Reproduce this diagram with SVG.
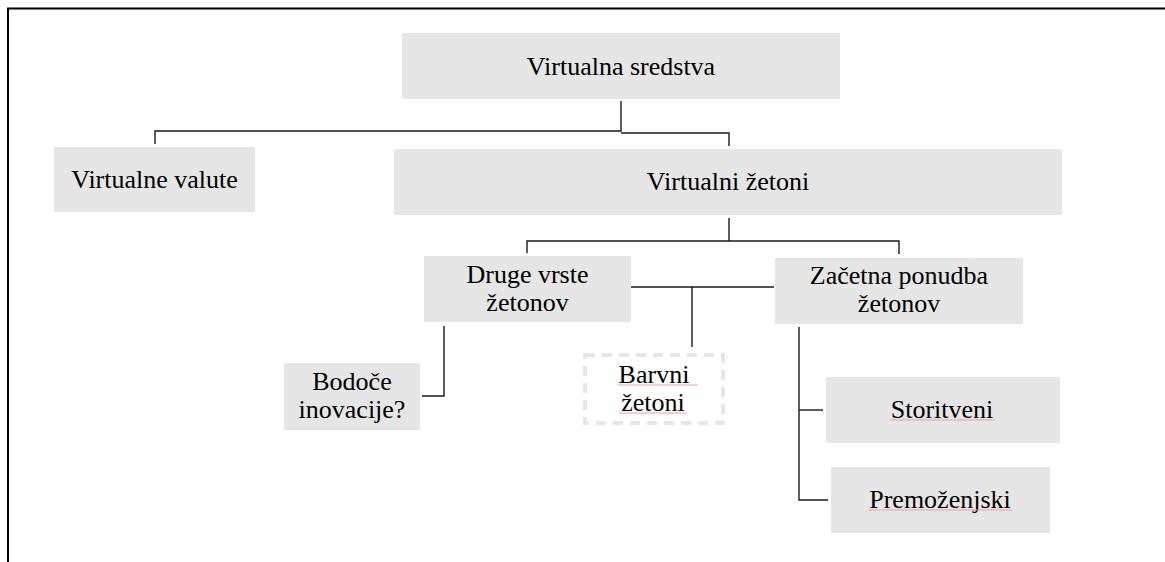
<svg xmlns="http://www.w3.org/2000/svg" width="1165" height="562" viewBox="0 0 1165 562">
  <style>
    .box { fill: #e6e6e6; }
    .dash { fill: none; stroke: #e6e6e6; stroke-width: 4; stroke-dasharray: 10 7; }
    .lbl { font-family: "Liberation Serif", "Times New Roman", serif; font-size: 26px; fill: #000; text-anchor: middle; }
    .conn { fill: none; stroke: #1a1a1a; stroke-width: 1.4; }
    .frame { fill: none; stroke: #000; stroke-width: 2; }
    .spell { stroke: #f0a0a0; stroke-width: 1; fill: none; }
  </style>
  <rect width="1165" height="562" fill="#ffffff"/>
  <path class="frame" d="M8,562 V8.5 H1165"/>

  <g id="connectors">
    <path class="conn" d="M155,144 V131 H621 V101"/>
    <path class="conn" d="M621,133 H729 V146"/>
    <path class="conn" d="M527,253 V241 H729 V218"/>
    <path class="conn" d="M729,241 H899 V254"/>
    <path class="conn" d="M631,287 H774"/>
    <path class="conn" d="M692,287 V347"/>
    <path class="conn" d="M444,326 V396 H422"/>
    <path class="conn" d="M799,327 V500 H828"/>
    <path class="conn" d="M799,410 H823"/>
  </g>

  <g id="node-virtualna-sredstva">
    <rect class="box" x="402" y="33" width="438" height="66"/>
    <text class="lbl" x="621" y="75">Virtualna sredstva</text>
  </g>
  <g id="node-virtualne-valute">
    <rect class="box" x="54" y="147" width="201" height="65"/>
    <text class="lbl" x="154.5" y="188">Virtualne valute</text>
  </g>
  <g id="node-virtualni-zetoni">
    <rect class="box" x="394" y="149" width="668" height="66"/>
    <text class="lbl" x="728" y="190">Virtualni žetoni</text>
  </g>
  <g id="node-druge-vrste">
    <rect class="box" x="424" y="256" width="207" height="66"/>
    <text class="lbl" x="527.5" y="283">Druge vrste</text>
    <text class="lbl" x="527.5" y="311">žetonov</text>
  </g>
  <g id="node-zacetna-ponudba">
    <rect class="box" x="775" y="258" width="248" height="66"/>
    <text class="lbl" x="899" y="284">Začetna ponudba</text>
    <text class="lbl" x="899" y="312">žetonov</text>
  </g>
  <g id="node-bodoce-inovacije">
    <rect class="box" x="284" y="363" width="136" height="67"/>
    <text class="lbl" x="352" y="390">Bodoče</text>
    <text class="lbl" x="352" y="418">inovacije?</text>
  </g>
  <g id="node-barvni-zetoni">
    <rect class="dash" x="585" y="355" width="138" height="68"/>
    <text class="lbl" x="654" y="383">Barvni</text>
    <text class="lbl" x="653" y="411">žetoni</text>
    <path class="spell" d="M618,385 H698 M619,413 H687"/>
  </g>
  <g id="node-storitveni">
    <rect class="box" x="826" y="377" width="234" height="66"/>
    <text class="lbl" x="942" y="418">Storitveni</text>
    <path class="spell" d="M890,420 H995"/>
  </g>
  <g id="node-premozenjski">
    <rect class="box" x="831" y="467" width="219" height="66"/>
    <text class="lbl" x="940" y="508">Premoženjski</text>
    <path class="spell" d="M868,510 H1012"/>
  </g>
</svg>
